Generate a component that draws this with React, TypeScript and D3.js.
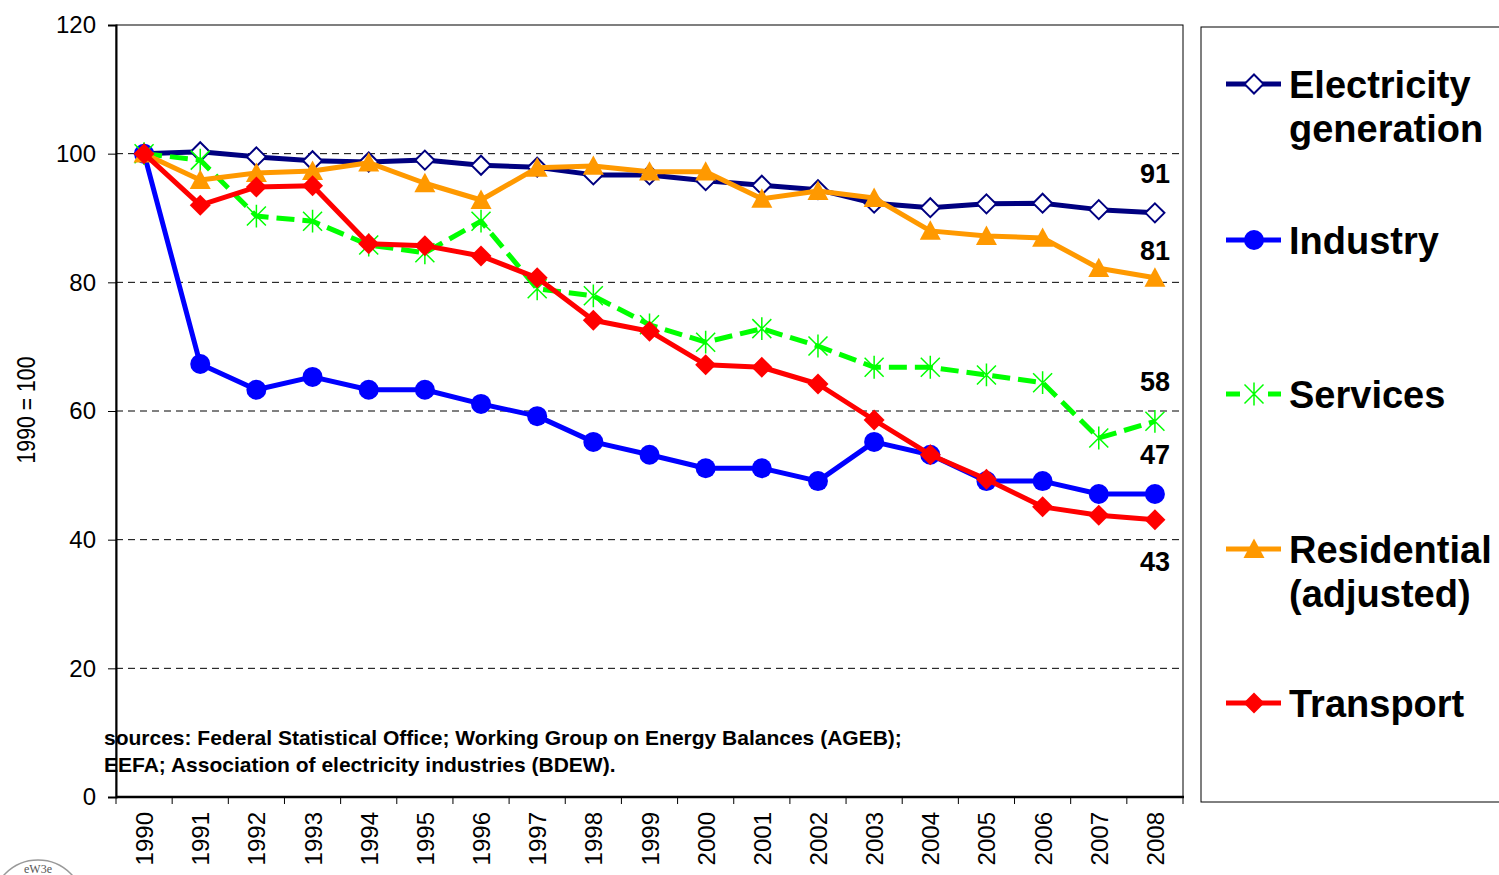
import { useEffect, useRef } from "react";
import * as d3 from "d3";

const years = ["1990", "1991", "1992", "1993", "1994", "1995", "1996", "1997", "1998", "1999",
  "2000", "2001", "2002", "2003", "2004", "2005", "2006", "2007", "2008"];

const electricity = [100, 100.3, 99.5, 98.9, 98.7, 99, 98.2, 97.9, 96.7, 96.7, 95.8, 95.1, 94.4, 92.3, 91.6, 92.2, 92.3, 91.3, 90.8];
const industry = [100, 67.3, 63.3, 65.3, 63.3, 63.3, 61.1, 59.2, 55.2, 53.2, 51.1, 51.1, 49.1, 55.2, 53.2, 49.1, 49.1, 47.1, 47.1];
const services = [100, 99.0, 90.3, 89.5, 85.8, 84.6, 89.5, 79.0, 77.9, 73.4, 70.7, 72.8, 70.1, 66.8, 66.8, 65.6, 64.4, 55.8, 58.4];
const residential = [100, 95.9, 97.0, 97.3, 98.6, 95.4, 92.8, 97.8, 98.1, 97.2, 97.2, 93.0, 94.2, 93.1, 88.0, 87.2, 86.9, 82.2, 80.7];
const transport = [100, 92.0, 94.8, 95.0, 86.0, 85.7, 84.1, 80.7, 74.1, 72.4, 67.2, 66.8, 64.2, 58.6, 53.2, 49.4, 45.1, 43.8, 43.1];

const yTicks = [0, 20, 40, 60, 80, 100, 120];
const endLabelText = ["91", "81", "58", "47", "43"];
const endLabelValue = [91, 81, 58, 47, 43];
// vertical offset (px) of each end label's baseline from its value
const endLabelShift = [-29, -16, -33, -31, 51];

const series = [
  { name: ["Electricity", "generation"], values: electricity, color: "#000080", marker: "openDiamond", dash: null },
  { name: ["Industry"], values: industry, color: "#0000FF", marker: "circle", dash: null },
  { name: ["Services"], values: services, color: "#00FF00", marker: "star", dash: "18,8" },
  { name: ["Residential", "(adjusted)"], values: residential, color: "#FF9900", marker: "triangle", dash: null },
  { name: ["Transport"], values: transport, color: "#FF0000", marker: "diamond", dash: null },
];

function drawMarker(g: any, type: string, x: number, y: number, color: string, s: number) {
  if (type === "circle") {
    g.append("circle").attr("cx", x).attr("cy", y).attr("r", s).attr("fill", color);
  } else if (type === "openDiamond") {
    g.append("path")
      .attr("d", `M${x},${y - s}L${x + s},${y}L${x},${y + s}L${x - s},${y}Z`)
      .attr("fill", "#fff").attr("stroke", color).attr("stroke-width", 2);
  } else if (type === "diamond") {
    const r = s + 1;
    g.append("path")
      .attr("d", `M${x},${y - r}L${x + r},${y}L${x},${y + r}L${x - r},${y}Z`)
      .attr("fill", color);
  } else if (type === "triangle") {
    const r = s + 1;
    g.append("path")
      .attr("d", `M${x},${y - r}L${x + r},${y + r * 0.85}L${x - r},${y + r * 0.85}Z`)
      .attr("fill", color);
  } else if (type === "star") {
    const r = s;
    g.append("path")
      .attr("d", `M${x - r},${y - r}L${x + r},${y + r}M${x + r},${y - r}L${x - r},${y + r}M${x},${y - r * 1.2}L${x},${y + r * 1.2}`)
      .attr("stroke", color).attr("stroke-width", 1.5).attr("fill", "none");
  }
}

export default function App() {
  const svgRef = useRef<SVGSVGElement>(null);

  useEffect(() => {
    const svg = d3.select(svgRef.current);
    svg.selectAll("*").remove();

    const left = 116, right = 1183, top = 25, bottom = 797;

    const x = d3.scaleBand().domain(years).range([left, right]);
    const y = d3.scaleLinear().domain([0, 120]).range([bottom, top]);
    const cx = (i: number) => (x(years[i]) as number) + x.bandwidth() / 2;

    svg.append("rect").attr("width", 1499).attr("height", 875).attr("fill", "#fff");

    // gridlines
    svg.append("g")
      .selectAll("line")
      .data(yTicks.filter(t => t > 0 && t < 120))
      .enter()
      .append("line")
      .attr("x1", left).attr("x2", right)
      .attr("y1", d => y(d)).attr("y2", d => y(d))
      .attr("stroke", "#000")
      .attr("stroke-width", 1)
      .attr("stroke-dasharray", "7,5");

    // plot frame
    svg.append("rect")
      .attr("x", left).attr("y", top)
      .attr("width", right - left).attr("height", bottom - top)
      .attr("fill", "none").attr("stroke", "#000").attr("stroke-width", 1);

    // y axis
    const yAxis = svg.append("g")
      .attr("transform", `translate(${left},0)`)
      .call(d3.axisLeft(y).tickValues(yTicks).tickSize(8).tickPadding(12));
    yAxis.select(".domain").attr("stroke-width", 2);
    yAxis.selectAll("text")
      .style("font-family", "Liberation Sans, Arial, sans-serif")
      .style("font-size", "24px")
      .attr("fill", "#000");

    // x axis
    svg.append("line")
      .attr("x1", left).attr("x2", right + 1)
      .attr("y1", bottom).attr("y2", bottom)
      .attr("stroke", "#000").attr("stroke-width", 2.5);

    svg.append("g")
      .selectAll("line")
      .data(d3.range(years.length + 1))
      .enter()
      .append("line")
      .attr("x1", i => left + i * x.bandwidth())
      .attr("x2", i => left + i * x.bandwidth())
      .attr("y1", bottom).attr("y2", bottom + 7)
      .attr("stroke", "#000").attr("stroke-width", 1);

    svg.append("g")
      .selectAll("text")
      .data(years)
      .enter()
      .append("text")
      .attr("transform", (d, i) => `translate(${cx(i) + 9},812) rotate(-90)`)
      .attr("text-anchor", "end")
      .style("font-family", "Liberation Sans, Arial, sans-serif")
      .style("font-size", "24px")
      .text(d => d);

    // y title
    svg.append("text")
      .attr("transform", "translate(35,410) rotate(-90) scale(0.85,1)")
      .attr("text-anchor", "middle")
      .style("font-family", "Liberation Sans, Arial, sans-serif")
      .style("font-size", "25px")
      .text("1990 = 100");

    // series
    const line = d3.line<number>().x((d, i) => cx(i)).y(d => y(d));
    series.forEach(s => {
      const g = svg.append("g");
      g.append("path")
        .attr("d", line(s.values))
        .attr("fill", "none")
        .attr("stroke", s.color)
        .attr("stroke-width", 5)
        .attr("stroke-linejoin", "round")
        .attr("stroke-dasharray", s.dash ?? null);
      s.values.forEach((v, i) => drawMarker(g, s.marker, cx(i), y(v), s.color, s.marker === "circle" ? 10 : 9.5));
    });

    // end labels
    svg.append("g")
      .selectAll("text")
      .data(endLabelText)
      .enter()
      .append("text")
      .attr("x", cx(years.length - 1))
      .attr("y", (d, i) => y(endLabelValue[i]) + endLabelShift[i])
      .attr("text-anchor", "middle")
      .style("font-family", "Liberation Sans, Arial, sans-serif")
      .style("font-weight", "bold")
      .style("font-size", "27px")
      .text(d => d);

    // sources
    const src = svg.append("text")
      .style("font-family", "Liberation Sans, Arial, sans-serif")
      .style("font-weight", "bold")
      .style("font-size", "21px");
    src.append("tspan").attr("x", 104).attr("y", 745)
      .text("sources: Federal Statistical Office; Working Group on Energy Balances (AGEB);");
    src.append("tspan").attr("x", 104).attr("y", 772)
      .text("EEFA; Association of electricity industries (BDEW).");

    // legend
    svg.append("rect")
      .attr("x", 1201).attr("y", 27).attr("width", 310).attr("height", 775)
      .attr("fill", "#fff").attr("stroke", "#000").attr("stroke-width", 1);

    const legendY = [84, 240, 394, 549, 703];
    series.forEach((s, i) => {
      const g = svg.append("g");
      const ly = legendY[i];
      if (s.dash) {
        g.append("line").attr("x1", 1226).attr("x2", 1240).attr("y1", ly).attr("y2", ly).attr("stroke", s.color).attr("stroke-width", 5);
        g.append("line").attr("x1", 1268).attr("x2", 1281).attr("y1", ly).attr("y2", ly).attr("stroke", s.color).attr("stroke-width", 5);
      } else {
        g.append("line")
          .attr("x1", 1226).attr("x2", 1281).attr("y1", ly).attr("y2", ly)
          .attr("stroke", s.color).attr("stroke-width", 5);
      }
      drawMarker(g, s.marker, 1254, ly, s.color, s.marker === "circle" ? 10 : 9.5);
      const t = g.append("text")
        .style("font-family", "Liberation Sans, Arial, sans-serif")
        .style("font-weight", "bold")
        .style("font-size", "38px");
      s.name.forEach((n, k) => {
        t.append("tspan").attr("x", 1289).attr("y", ly + 14 + k * 44).text(n);
      });
    });

    // logo fragment bottom-left
    svg.append("circle")
      .attr("cx", 38).attr("cy", 906).attr("r", 46)
      .attr("fill", "none").attr("stroke", "#999").attr("stroke-width", 1.5);
    svg.append("text")
      .attr("x", 38).attr("y", 873)
      .attr("text-anchor", "middle")
      .style("font-family", "Liberation Serif, serif")
      .style("font-size", "12px")
      .attr("fill", "#555")
      .text("eW3e");
  }, []);

  return (
    <svg ref={svgRef} width={1499} height={875}
      style={{ position: "absolute", left: 0, top: 0, display: "block" }} />
  );
}
